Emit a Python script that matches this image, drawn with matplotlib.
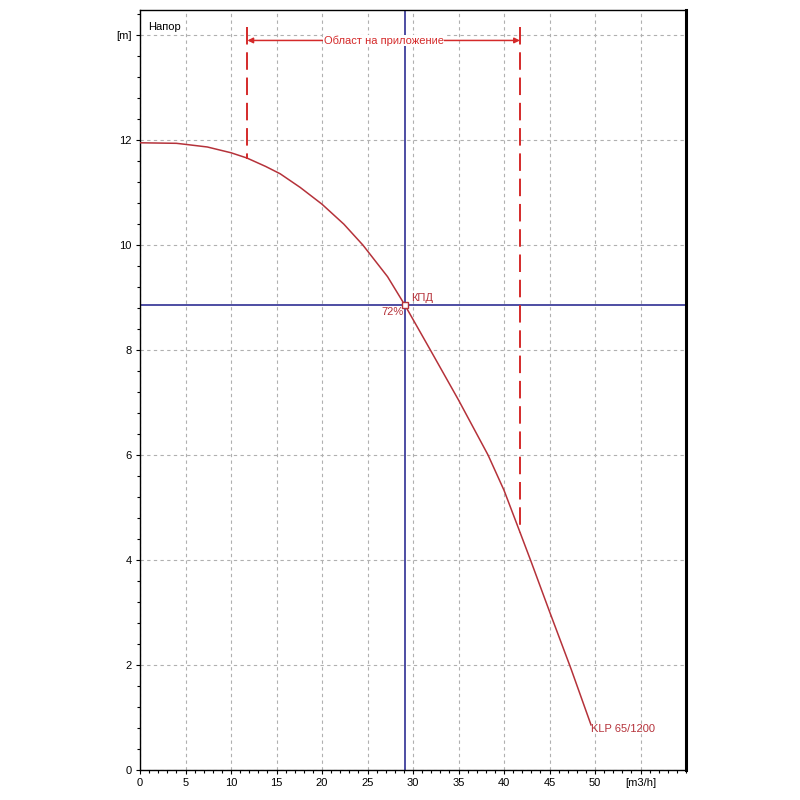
import matplotlib
matplotlib.use("Agg")
import matplotlib.pyplot as plt
from matplotlib.ticker import MultipleLocator

plt.rcParams["font.family"] = ["Liberation Sans", "DejaVu Sans"]

# ─── data ──────────────────────────────────────────────────────────────────
flow = [0, 4, 5, 7.4, 10, 11.75, 13.8, 15.4, 17.6, 20, 22.4, 24.5, 27.2,
        29.1, 31.85, 35.0, 38.25, 40.0, 41.8, 43.0, 45.0, 47.36, 49.56]
head = [11.95, 11.94, 11.92, 11.87, 11.76, 11.66, 11.5, 11.36, 11.10, 10.78,
        10.40, 10.0, 9.40, 8.86, 8.02, 7.05, 6.0, 5.33, 4.51, 3.96, 3.02, 1.93, 0.86]

duty_q, duty_h = 29.1, 8.86
range_lo, range_hi = 11.8, 41.75
range_lo_h, range_hi_h = 11.65, 4.51
range_top = 14.15
arrow_y = 13.9

x_ticks = [0, 5, 10, 15, 20, 25, 30, 35, 40, 45, 50, 55]
x_labels = ["0", "5", "10", "15", "20", "25", "30", "35", "40", "45", "50", "[m3/h]"]
y_ticks = [0, 2, 4, 6, 8, 10, 12, 14]
y_labels = ["0", "2", "4", "6", "8", "10", "12", "[m]"]

curve_red = "#b5323a"
line_red = "#d42a2a"
navy = "#1c1c8a"

# ─── figure ────────────────────────────────────────────────────────────────
fig = plt.figure(figsize=(8, 8), dpi=100)
ax = fig.add_axes([0.175, 0.0375, 0.6825, 0.95])
ax.set_xlim(0, 60)
ax.set_ylim(0, 14.48)

ax.set_xticks(x_ticks)
ax.set_xticklabels(x_labels, fontsize=8)
ax.set_yticks(y_ticks)
ax.set_yticklabels(y_labels, fontsize=8)
ax.xaxis.set_minor_locator(MultipleLocator(1))
ax.yaxis.set_minor_locator(MultipleLocator(0.4))
ax.tick_params(which="both", direction="out", length=3, width=0.8, pad=3)
ax.tick_params(which="minor", length=2)

ax.grid(True, which="major", color="#b0b0b0", linestyle=(0, (3, 3)), linewidth=0.8)
for side in ["left", "bottom", "top"]:
    ax.spines[side].set_linewidth(1.0)
ax.spines["right"].set_linewidth(2.2)

# pump curve
ax.plot(flow, head, color=curve_red, linewidth=1.1, zorder=3)
ax.text(flow[-1], head[-1] - 0.07, "KLP 65/1200", color=curve_red,
        fontsize=8, ha="left", va="center")

# duty point cross-hair
ax.axvline(duty_q, color=navy, linewidth=1.1, zorder=2)
ax.axhline(duty_h, color=navy, linewidth=1.1, zorder=2)
ax.plot([duty_q], [duty_h], marker="s", markersize=5, markerfacecolor="white",
        markeredgecolor=curve_red, markeredgewidth=1, zorder=5)
ax.text(duty_q + 0.7, duty_h + 0.14, "КПД", color=curve_red, fontsize=8,
        ha="left", va="center")
ax.text(duty_q - 0.1, duty_h - 0.14, "72%", color=curve_red, fontsize=8,
        ha="right", va="center")

# application range
ax.plot([range_lo, range_lo], [range_top, range_lo_h], color=line_red,
        linewidth=1.4, dashes=(9, 4), zorder=3)
ax.plot([range_hi, range_hi], [range_top, range_hi_h], color=line_red,
        linewidth=1.4, dashes=(9, 4), zorder=3)
mid = (range_lo + range_hi) / 2
for end in (range_lo, range_hi):
    ax.annotate("", xy=(end, arrow_y), xytext=(mid, arrow_y),
                arrowprops=dict(arrowstyle="-|>", color=line_red, lw=1.1,
                                mutation_scale=8, shrinkA=0, shrinkB=0))
ax.text(mid, arrow_y, "Област на приложение", color=line_red, fontsize=8,
        ha="center", va="center", zorder=6,
        bbox=dict(facecolor="white", edgecolor="none", pad=0.5))

ax.text(0.9, 14.15, "Напор", fontsize=8, ha="left", va="center")

fig.savefig("out.png", dpi=100)
